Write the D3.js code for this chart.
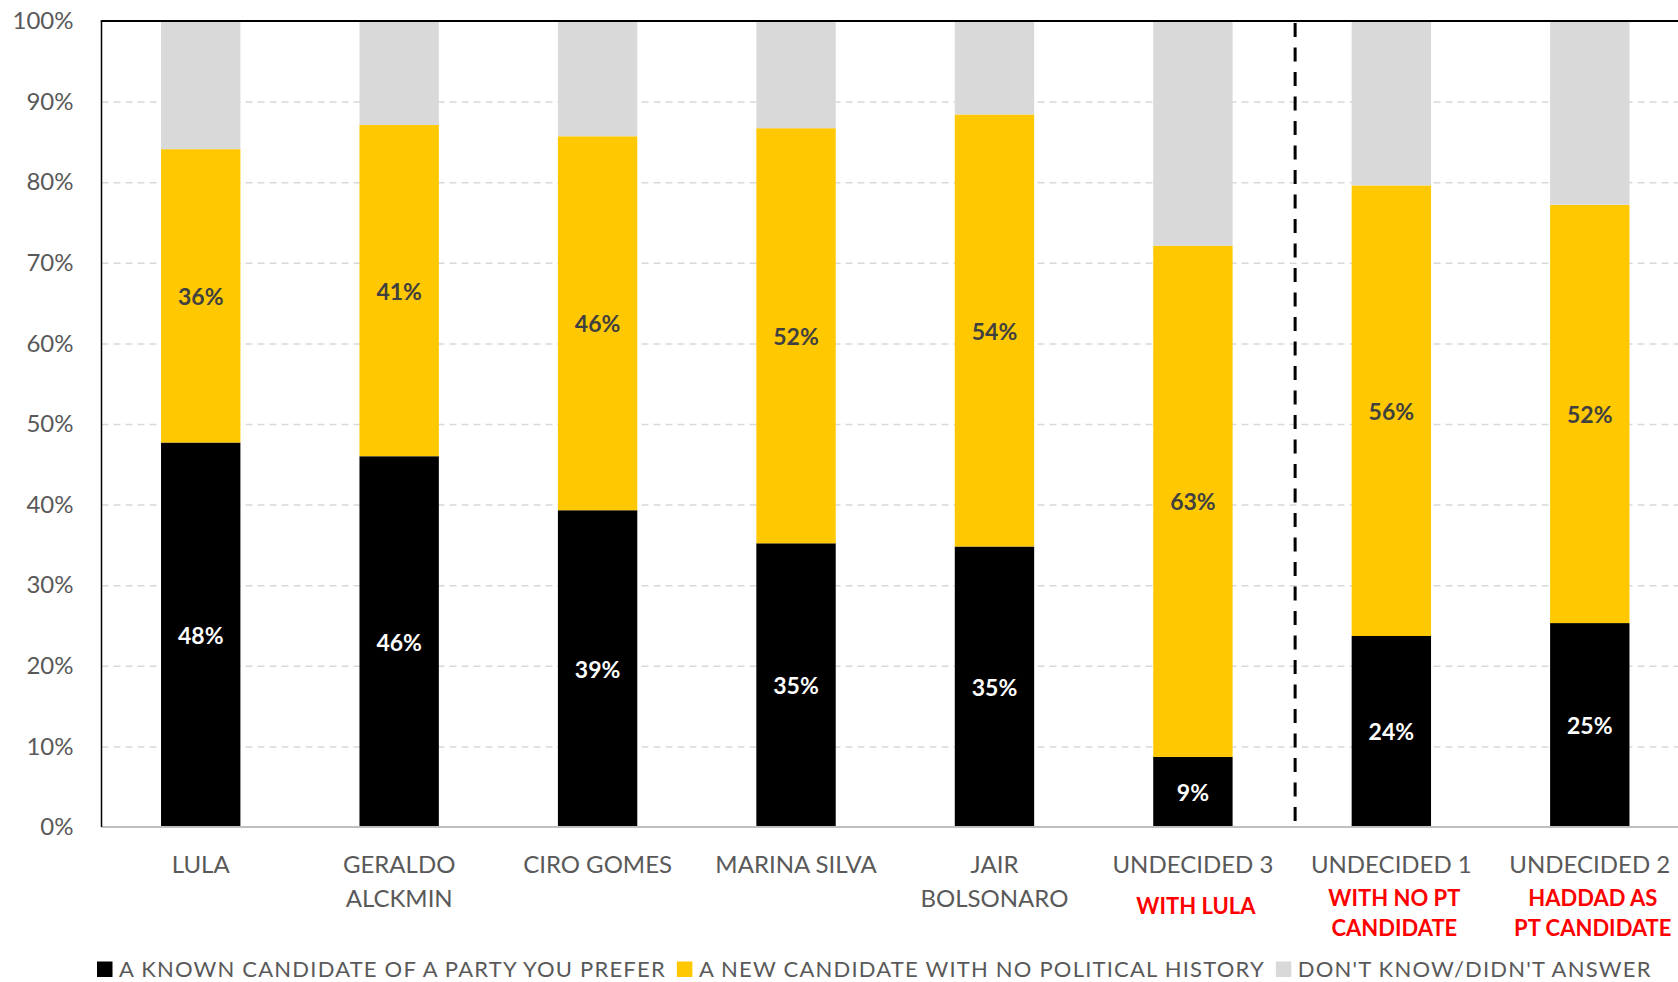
<!DOCTYPE html>
<html>
<head>
<meta charset="utf-8">
<script src="https://cdn.jsdelivr.net/npm/d3@7/dist/d3.min.js"></script>
<style>
    html, body { margin: 0; padding: 0; background: #fff; }
    svg { display: block; font-family: Lato, "Open Sans", sans-serif; }
    .tick text { fill: #595959; }
</style>
</head>
<body>
<svg width="1678" height="982"></svg>
<script>
'use strict';

var categories = ['LULA', 'GERALDO ALCKMIN', 'CIRO GOMES', 'MARINA SILVA',
        'JAIR BOLSONARO', 'UNDECIDED 3', 'UNDECIDED 1', 'UNDECIDED 2'],
    categoryLines = [['LULA'], ['GERALDO', 'ALCKMIN'], ['CIRO GOMES'], ['MARINA SILVA'],
        ['JAIR', 'BOLSONARO'], ['UNDECIDED 3'], ['UNDECIDED 1'], ['UNDECIDED 2']],
    notes = [[], [], [], [], [], ['WITH LULA'], ['WITH NO PT', 'CANDIDATE'], ['HADDAD AS', 'PT CANDIDATE']],
    known = [47.7, 46.0, 39.3, 35.2, 34.8, 8.7, 23.7, 25.3],
    newCandidate = [36.4, 41.1, 46.4, 51.5, 53.6, 63.4, 55.9, 51.9],
    dontKnow = [15.9, 12.9, 14.3, 13.3, 11.6, 27.9, 20.4, 22.8],
    yTicks = [0, 10, 20, 30, 40, 50, 60, 70, 80, 90, 100],
    seriesNames = ['A KNOWN CANDIDATE OF A PARTY YOU PREFER',
        'A NEW CANDIDATE WITH NO POLITICAL HISTORY', "DON'T KNOW/DIDN'T ANSWER"],
    seriesKeys = ['known', 'newCandidate', 'dontKnow'],
    seriesColors = ['#000000', '#ffc800', '#d9d9d9'],
    labelColors = ['#ffffff', '#404040', null];

var svg = d3.select('svg'),
    plotLeft = 101.5,
    plotRight = 1689,
    plotTop = 21,
    plotBottom = 827;

var x = d3.scaleBand()
    .domain(categories)
    .range([plotLeft, plotRight])
    .paddingInner(0.6)
    .paddingOuter(0.3);

var y = d3.scaleLinear()
    .domain([0, 100])
    .range([plotBottom, plotTop]);

var rows = categories.map(function (c, i) {
    return { name: c, known: known[i], newCandidate: newCandidate[i], dontKnow: dontKnow[i] };
});
var stacked = d3.stack().keys(seriesKeys)(rows);

// Grid lines
var grid = svg.append('g')
    .attr('transform', 'translate(' + plotLeft + ',0)')
    .call(d3.axisLeft(y).tickValues(yTicks.slice(1, -1)).tickSize(-(plotRight - plotLeft)).tickFormat(''));
grid.select('.domain').remove();
grid.selectAll('line')
    .attr('stroke', '#d9d9d9')
    .attr('stroke-width', 1.5)
    .attr('stroke-dasharray', '7,5');

// Y axis labels
var yAxis = svg.append('g')
    .attr('transform', 'translate(' + plotLeft + ',0)')
    .call(d3.axisLeft(y).tickValues(yTicks).tickSize(0).tickPadding(28).tickFormat(function (d) { return d + '%'; }));
yAxis.select('.domain').remove();
yAxis.selectAll('text')
    .attr('font-size', 24)
    .attr('font-family', 'Lato, sans-serif');

// Bars
var layers = svg.append('g').selectAll('g')
    .data(stacked)
    .join('g')
    .attr('fill', function (d, i) { return seriesColors[i]; });

layers.selectAll('rect')
    .data(function (d) { return d; })
    .join('rect')
    .attr('x', function (d) { return x(d.data.name); })
    .attr('y', function (d) { return y(d[1]); })
    .attr('width', x.bandwidth())
    .attr('height', function (d) { return y(d[0]) - y(d[1]); });

// Value labels (first two series)
stacked.forEach(function (layer, i) {
    if (!labelColors[i]) return;
    svg.append('g').selectAll('text')
        .data(layer)
        .join('text')
        .attr('x', function (d) { return x(d.data.name) + x.bandwidth() / 2; })
        .attr('y', function (d) { return y((d[0] + d[1]) / 2) + 9; })
        .attr('text-anchor', 'middle')
        .attr('font-size', 23)
        .attr('font-weight', 'bold')
        .attr('fill', labelColors[i])
        .text(function (d) { return Math.round(d[1] - d[0]) + '%'; });
});

// Frame
svg.append('line')
    .attr('x1', plotLeft).attr('x2', plotRight)
    .attr('y1', plotBottom).attr('y2', plotBottom)
    .attr('stroke', '#bfbfbf').attr('stroke-width', 2);
svg.append('line')
    .attr('x1', plotLeft).attr('x2', plotLeft)
    .attr('y1', plotTop).attr('y2', plotBottom)
    .attr('stroke', '#000').attr('stroke-width', 1.5);
svg.append('line')
    .attr('x1', plotLeft - 0.75).attr('x2', plotRight)
    .attr('y1', plotTop).attr('y2', plotTop)
    .attr('stroke', '#000').attr('stroke-width', 2);

// Divider between undecided groups
var divX = x('UNDECIDED 1') - x.step() * x.paddingInner() / 2 + 3;
svg.append('line')
    .attr('x1', divX).attr('x2', divX)
    .attr('y1', plotTop + 2).attr('y2', plotBottom - 3)
    .attr('stroke', '#000')
    .attr('stroke-width', 3)
    .attr('stroke-dasharray', '14,10.5');

// Category labels
var catLabels = svg.append('g').selectAll('text')
    .data(categories)
    .join('text')
    .attr('x', function (d) { return x(d) + x.bandwidth() / 2; })
    .attr('y', 873)
    .attr('text-anchor', 'middle')
    .attr('font-size', 24)
    .attr('fill', '#595959');
catLabels.selectAll('tspan')
    .data(function (d, i) { return categoryLines[i]; })
    .join('tspan')
    .attr('x', function () { return this.parentNode.getAttribute('x'); })
    .attr('dy', function (d, i) { return i ? 33.5 : 0; })
    .text(function (d) { return d; });

// Red notes under the undecided groups
var noteLabels = svg.append('g').selectAll('text')
    .data(categories)
    .join('text')
    .attr('x', function (d) { return x(d) + x.bandwidth() / 2 + 3; })
    .attr('y', function (d, i) { return notes[i].length > 1 ? 906 : 914; })
    .attr('text-anchor', 'middle')
    .attr('font-size', 22)
    .attr('font-weight', 'bold')
    .attr('fill', '#ff0000');
noteLabels.selectAll('tspan')
    .data(function (d, i) { return notes[i]; })
    .join('tspan')
    .attr('x', function () { return this.parentNode.getAttribute('x'); })
    .attr('dy', function (d, i) { return i ? 30 : 0; })
    .text(function (d) { return d; });

// Legend
var legend = svg.append('g'),
    lx = 97;
seriesNames.forEach(function (name, i) {
    legend.append('rect')
        .attr('x', lx).attr('y', 961.5)
        .attr('width', 15.5).attr('height', 15.5)
        .attr('fill', seriesColors[i]);
    var t = legend.append('text')
        .attr('x', lx + 22).attr('y', 977)
        .attr('font-size', 22)
        .attr('letter-spacing', 1.2)
        .attr('fill', '#595959')
        .text(name);
    lx += 22 + t.node().getComputedTextLength() + 11;
});
</script>
</body>
</html>
